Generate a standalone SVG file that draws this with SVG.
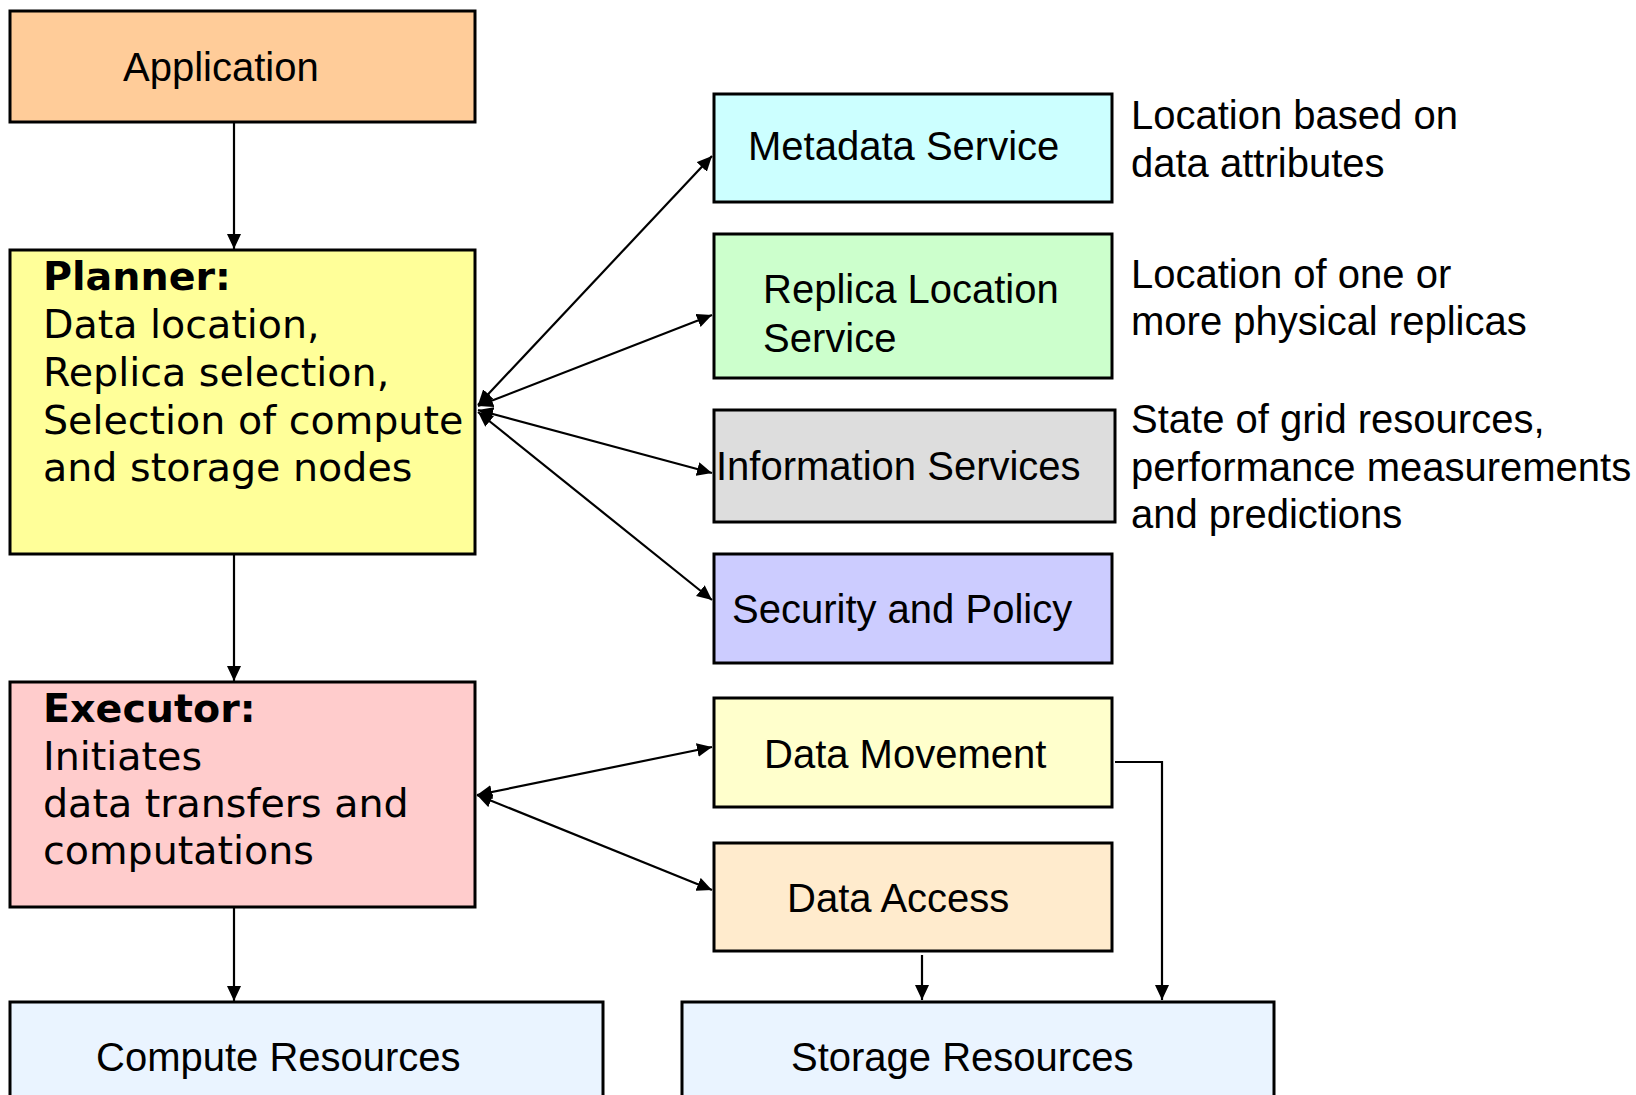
<svg xmlns="http://www.w3.org/2000/svg" width="1636" height="1095" viewBox="0 0 1636 1095">
<defs>
<style>
.box{stroke:#000;stroke-width:3}
.t{font-family:"Liberation Sans",Arial,sans-serif;font-size:40px;fill:#000}
.v{font-family:"DejaVu Sans",Verdana,sans-serif;font-size:39.6px;fill:#000}
.b{font-weight:bold}
.c{fill:none;stroke:#000;stroke-width:2.2}
</style>
<marker id="ah" markerUnits="userSpaceOnUse" markerWidth="16" markerHeight="14" refX="15" refY="7" orient="auto-start-reverse">
<path d="M0,0 L15,7 L0,14 z" fill="#000"/>
</marker>
</defs>
<rect width="1636" height="1095" fill="#fff"/>

<g id="connectors">
<line class="c" x1="234" y1="122" x2="234" y2="249" marker-end="url(#ah)"/>
<line class="c" x1="234" y1="554" x2="234" y2="681" marker-end="url(#ah)"/>
<line class="c" x1="234" y1="907" x2="234" y2="1001" marker-end="url(#ah)"/>
<line class="c" x1="478" y1="405" x2="712" y2="156" marker-start="url(#ah)" marker-end="url(#ah)"/>
<line class="c" x1="478" y1="406" x2="712" y2="315" marker-start="url(#ah)" marker-end="url(#ah)"/>
<line class="c" x1="478" y1="410" x2="712" y2="473" marker-start="url(#ah)" marker-end="url(#ah)"/>
<line class="c" x1="478" y1="412" x2="712" y2="600" marker-start="url(#ah)" marker-end="url(#ah)"/>
<line class="c" x1="477" y1="795" x2="712" y2="747" marker-start="url(#ah)" marker-end="url(#ah)"/>
<line class="c" x1="477" y1="795" x2="712" y2="890" marker-start="url(#ah)" marker-end="url(#ah)"/>
<line class="c" x1="922" y1="955" x2="922" y2="1000" marker-end="url(#ah)"/>
<polyline class="c" points="1115,762 1162,762 1162,1000" marker-end="url(#ah)"/>
</g>

<g id="application">
<rect class="box" x="10" y="11" width="465" height="111" fill="#FFCC99"/>
<text class="t" x="123" y="81">Application</text>
</g>

<g id="planner">
<rect class="box" x="10" y="250" width="465" height="304" fill="#FFFF99"/>
<text class="v b" x="43" y="290">Planner:</text>
<text class="v" x="43" y="338">Data location,</text>
<text class="v" x="43" y="386">Replica selection,</text>
<text class="v" x="43" y="434">Selection of compute</text>
<text class="v" x="43" y="481">and storage nodes</text>
</g>

<g id="executor">
<rect class="box" x="10" y="682" width="465" height="225" fill="#FFCCCC"/>
<text class="v b" x="43" y="722">Executor:</text>
<text class="v" x="43" y="770">Initiates</text>
<text class="v" x="43" y="817">data transfers and</text>
<text class="v" x="43" y="864">computations</text>
</g>

<g id="metadata">
<rect class="box" x="714" y="94" width="398" height="108" fill="#CCFFFF"/>
<text class="t" x="748" y="160">Metadata Service</text>
</g>

<g id="replica">
<rect class="box" x="714" y="234" width="398" height="144" fill="#CCFFCC"/>
<text class="t" x="763" y="303">Replica Location</text>
<text class="t" x="763" y="352">Service</text>
</g>

<g id="information">
<rect class="box" x="714" y="410" width="401" height="112" fill="#DDDDDD"/>
<text class="t" x="716" y="480">Information Services</text>
</g>

<g id="security">
<rect class="box" x="714" y="554" width="398" height="109" fill="#CCCCFF"/>
<text class="t" x="732" y="623">Security and Policy</text>
</g>

<g id="datamovement">
<rect class="box" x="714" y="698" width="398" height="109" fill="#FFFFCC"/>
<text class="t" x="764" y="768">Data Movement</text>
</g>

<g id="dataaccess">
<rect class="box" x="714" y="843" width="398" height="108" fill="#FFEBCD"/>
<text class="t" x="787" y="912">Data Access</text>
</g>

<g id="compute">
<rect class="box" x="10" y="1002" width="593" height="120" fill="#EAF4FF"/>
<text class="t" x="96" y="1071">Compute Resources</text>
</g>

<g id="storage">
<rect class="box" x="682" y="1002" width="592" height="120" fill="#EAF4FF"/>
<text class="t" x="791" y="1071">Storage Resources</text>
</g>

<g id="annotations">
<text class="t" x="1131" y="129">Location based on</text>
<text class="t" x="1131" y="177">data attributes</text>
<text class="t" x="1131" y="288">Location of one or</text>
<text class="t" x="1131" y="335">more physical replicas</text>
<text class="t" x="1131" y="433">State of grid resources,</text>
<text class="t" x="1131" y="481">performance measurements</text>
<text class="t" x="1131" y="528">and predictions</text>
</g>
</svg>
